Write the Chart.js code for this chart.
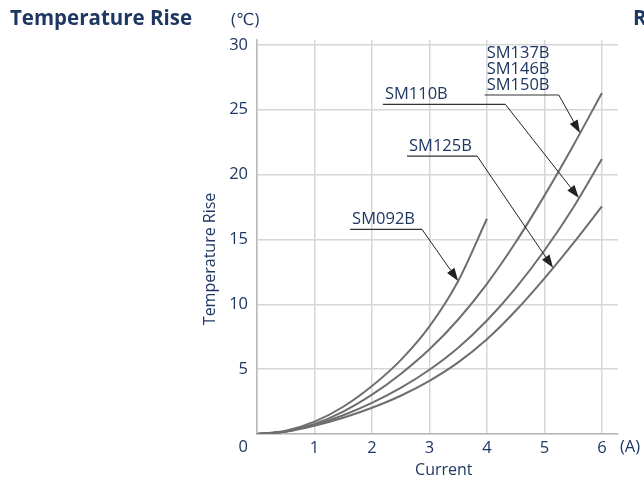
<!DOCTYPE html>
<html>
<head>
<meta charset="utf-8">
<script src="https://cdn.jsdelivr.net/npm/chart.js@4"></script>
<style>
  html, body { margin: 0; padding: 0; background: #fff; }
  #wrap { position: relative; width: 644px; height: 481px; }
</style>
</head>
<body>
<div id="wrap"><canvas id="riseChart"></canvas></div>
<script>
// Current (A) sample points shared by every curve
const currents = [0, 0.5, 1, 1.5, 2, 2.5, 3, 3.5, 4, 4.5, 5, 5.5, 6];

// Temperature rise (°C) per model
const sm092b = [0, 0.25, 0.95, 2.1, 3.7, 5.7, 8.3, 11.8, 16.6];
const sm137b = [0, 0.2, 0.78, 1.73, 3.03, 4.63, 6.53, 8.83, 11.58, 14.78, 18.38, 22.23, 26.3];
const sm110b = [0, 0.2, 0.7, 1.45, 2.4, 3.55, 4.95, 6.65, 8.75, 11.25, 14.15, 17.45, 21.2];
const sm125b = [0, 0.18, 0.63, 1.25, 2.02, 2.95, 4.1, 5.52, 7.3, 9.5, 12.0, 14.7, 17.55];

const xTicks = [0, 1, 2, 3, 4, 5, 6];
const yTicks = [0, 5, 10, 15, 20, 25, 30];

const NAVY = '#1f3763';
const FONT = '"Open Sans", "DejaVu Sans", sans-serif';

// callout labels: underline (data units) and the current where the arrow hits the curve
const callouts = [
  { lines: ['SM092B'], series: sm092b, from: 1.62, to: 2.87, at: 15.78, tip: 3.5 },
  { lines: ['SM110B'], series: sm110b, from: 2.19, to: 4.32, at: 25.42, tip: 5.6 },
  { lines: ['SM125B'], series: sm125b, from: 2.61, to: 3.83, at: 21.43, tip: 5.15 },
  { lines: ['SM137B', 'SM146B', 'SM150B'], series: sm137b, from: 3.96, to: 5.25, at: 26.14, tip: 5.62 },
];

function toPoints(series) {
  return series.map((v, i) => ({ x: currents[i], y: v }));
}

// value of a series at current x, read between its neighbouring samples
function valueAt(series, x) {
  for (let i = 1; i < series.length; i++) {
    if (x <= currents[i]) {
      const t = (x - currents[i - 1]) / (currents[i] - currents[i - 1]);
      return series[i - 1] + t * (series[i] - series[i - 1]);
    }
  }
  return series[series.length - 1];
}

const calloutPlugin = {
  id: 'callouts',
  afterDatasetsDraw(chart) {
    const { ctx, scales: { x, y } } = chart;
    ctx.save();
    ctx.font = '16.5px ' + FONT;
    ctx.textBaseline = 'alphabetic';
    callouts.forEach(c => {
      const x0 = x.getPixelForValue(c.from);
      const x1 = x.getPixelForValue(c.to);
      const yb = y.getPixelForValue(c.at);
      const tx = x.getPixelForValue(c.tip);
      const ty = y.getPixelForValue(valueAt(c.series, c.tip));

      // label text, stacked upwards from the underline
      ctx.fillStyle = NAVY;
      c.lines.slice().reverse().forEach((line, i) => {
        ctx.fillText(line, x0 + 2, yb - 5 - i * 16.2);
      });

      ctx.strokeStyle = '#333';
      ctx.lineWidth = 1.2;
      ctx.beginPath();
      ctx.moveTo(x0, yb);
      ctx.lineTo(x1, yb);
      ctx.stroke();

      // leader + arrowhead
      const ang = Math.atan2(ty - yb, tx - x1);
      const len = 13, half = 4.5;
      const bx = tx - len * Math.cos(ang), by = ty - len * Math.sin(ang);
      ctx.lineWidth = 1;
      ctx.strokeStyle = '#222';
      ctx.beginPath();
      ctx.moveTo(x1, yb);
      ctx.lineTo(bx, by);
      ctx.stroke();
      ctx.fillStyle = '#222';
      ctx.beginPath();
      ctx.moveTo(tx, ty);
      ctx.lineTo(bx + half * Math.sin(ang), by - half * Math.cos(ang));
      ctx.lineTo(bx - half * Math.sin(ang), by + half * Math.cos(ang));
      ctx.closePath();
      ctx.fill();
    });
    ctx.restore();
  },
  afterDraw(chart) {
    const { ctx, scales: { x, y } } = chart;
    const row = x.top + 13.5;
    ctx.save();
    ctx.fillStyle = NAVY;

    ctx.font = 'bold 20.5px ' + FONT;
    ctx.textBaseline = 'alphabetic';
    ctx.textAlign = 'left';
    ctx.fillText('Temperature Rise', 10, 25);
    ctx.fillText('R', 633, 25);

    ctx.font = '16.5px ' + FONT;
    ctx.fillText('(℃)', 231, 25);

    // shared origin label and unit
    ctx.textBaseline = 'middle';
    ctx.textAlign = 'right';
    ctx.fillText('0', x.left - 9, row);
    ctx.textAlign = 'left';
    ctx.fillText('(A)', x.getPixelForValue(6) + 18, row);

    // axis titles
    ctx.font = '16px ' + FONT;
    ctx.textAlign = 'center';
    ctx.fillText('Current', x.getPixelForValue(3.25), row + 23);
    ctx.translate(x.left - 47, y.getPixelForValue(13.5));
    ctx.rotate(-Math.PI / 2);
    ctx.fillText('Temperature Rise', 0, 0);
    ctx.restore();
  }
};

const curveStyle = {
  borderColor: '#6e6e6e',
  borderWidth: 2,
  pointRadius: 0,
  fill: false,
  cubicInterpolationMode: 'monotone',
};

new Chart(document.getElementById('riseChart'), {
  type: 'line',
  data: {
    datasets: [
      { label: 'SM092B', data: toPoints(sm092b), ...curveStyle },
      { label: 'SM137B/SM146B/SM150B', data: toPoints(sm137b), ...curveStyle },
      { label: 'SM110B', data: toPoints(sm110b), ...curveStyle },
      { label: 'SM125B', data: toPoints(sm125b), ...curveStyle },
    ],
  },
  options: {
    responsive: true,
    maintainAspectRatio: false,
    animation: false,
    events: [],
    layout: { padding: { top: 40, right: 26, left: 0, bottom: 0 } },
    plugins: {
      legend: { display: false },
      tooltip: { enabled: false },
    },
    scales: {
      x: {
        type: 'linear',
        min: 0,
        max: 6.28,
        afterBuildTicks: (s) => { s.ticks = xTicks.map(v => ({ value: v })); },
        afterFit: (s) => { s.height = 47; },
        grid: { color: '#d6d6d6', lineWidth: 1.5, drawTicks: false },
        border: { color: '#b9b9b9', width: 1.5 },
        ticks: {
          autoSkip: false,
          maxRotation: 0,
          padding: 4,
          color: NAVY,
          font: { family: FONT, size: 16.5 },
          callback: (v) => (v === 0 ? '' : v),
        },
      },
      y: {
        min: 0,
        max: 30.38,
        afterBuildTicks: (s) => { s.ticks = yTicks.map(v => ({ value: v })); },
        afterFit: (s) => { s.width = 257; },
        grid: { color: '#d6d6d6', lineWidth: 1.5, drawTicks: false },
        border: { color: '#b9b9b9', width: 1.5 },
        ticks: {
          padding: 9,
          color: NAVY,
          font: { family: FONT, size: 16.5 },
          callback: (v) => (v === 0 ? '' : v),
        },
      },
    },
  },
  plugins: [calloutPlugin],
});
</script>
</body>
</html>
